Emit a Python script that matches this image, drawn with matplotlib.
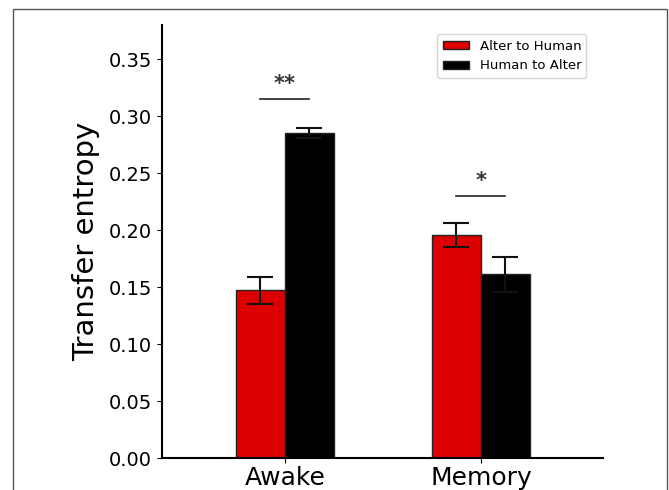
import matplotlib
matplotlib.use('Agg')
import matplotlib.pyplot as plt
from matplotlib.patches import Rectangle
import numpy as np

conditions = ['Awake', 'Memory']
alter_to_human = [0.147, 0.196]
alter_to_human_err = [0.0115, 0.0105]
human_to_alter = [0.285, 0.161]
human_to_alter_err = [0.0045, 0.0155]
sig_labels = ['**', '*']
sig_heights = [0.315, 0.230]

fig = plt.figure(figsize=(6.69, 4.9), dpi=100)
ax = fig.add_axes([0.242, 0.0653, 0.659, 0.884])

x = np.arange(len(conditions))
width = 0.25
ax.bar(x - width / 2, alter_to_human, width, yerr=alter_to_human_err,
       color='#dd0000', edgecolor='#222222', linewidth=1.0,
       capsize=9.4, error_kw=dict(elinewidth=1.5, capthick=1.5, ecolor='#111111'),
       label='Alter to Human')
ax.bar(x + width / 2, human_to_alter, width, yerr=human_to_alter_err,
       color='black', edgecolor='#222222', linewidth=1.0,
       capsize=9.4, error_kw=dict(elinewidth=1.5, capthick=1.5, ecolor='#111111'),
       label='Human to Alter')

# significance markers
for i in range(len(conditions)):
    ax.plot([x[i] - width / 2, x[i] + width / 2], [sig_heights[i]] * 2,
            color='#222222', linewidth=1.2)
    ax.text(x[i], sig_heights[i] + 0.004, sig_labels[i], ha='center', va='bottom',
            fontsize=15, fontweight='bold', color='#333333')

ax.set_xlim(-0.628, 1.622)
ax.set_ylim(0, 0.38)
ax.set_yticks(np.arange(0, 0.36, 0.05))
ax.set_yticklabels(['%.2f' % v for v in np.arange(0, 0.36, 0.05)], fontsize=14)
ax.set_xticks(x)
ax.set_xticklabels(conditions, fontsize=18)
ax.tick_params(axis='x', pad=2)
ax.set_ylabel('Transfer entropy', fontsize=21, labelpad=6)
ax.spines['top'].set_visible(False)
ax.spines['right'].set_visible(False)
ax.spines['left'].set_linewidth(1.5)
ax.spines['bottom'].set_linewidth(1.5)

ax.legend(loc='upper right', bbox_to_anchor=(0.978, 0.993), fontsize=9.5,
          frameon=True, fancybox=True, edgecolor='#cccccc',
          handleheight=0.6, borderpad=0.4)

# outer frame around the figure
fig.patches.append(Rectangle((13 / 669, -0.1), 654 / 669, 1 - 9 / 490 + 0.1,
                             transform=fig.transFigure, fill=False,
                             edgecolor='#555555', linewidth=1.0))

fig.savefig('out.png', dpi=100)
